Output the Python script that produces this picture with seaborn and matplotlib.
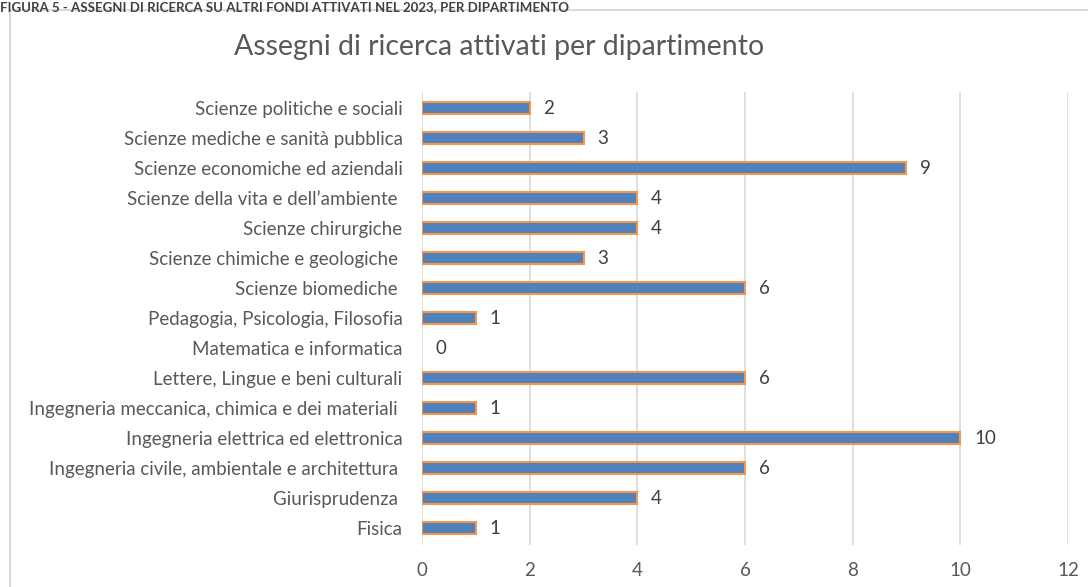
import pandas as pd
import matplotlib.pyplot as plt
import seaborn as sns
from matplotlib.patches import Rectangle

# Data (top to bottom)
dipartimenti = [
    "Scienze politiche e sociali",
    "Scienze mediche e sanità pubblica",
    "Scienze economiche ed aziendali",
    "Scienze della vita e dell\u2019ambiente ",
    "Scienze chirurgiche",
    "Scienze chimiche e geologiche ",
    "Scienze biomediche ",
    "Pedagogia, Psicologia, Filosofia",
    "Matematica e informatica",
    "Lettere, Lingue e beni culturali",
    "Ingegneria meccanica, chimica e dei materiali ",
    "Ingegneria elettrica ed elettronica",
    "Ingegneria civile, ambientale e architettura ",
    "Giurisprudenza ",
    "Fisica",
]
assegni = [2, 3, 9, 4, 4, 3, 6, 1, 0, 6, 1, 10, 6, 4, 1]
x_ticks = [0, 2, 4, 6, 8, 10, 12]

df = pd.DataFrame({"dipartimento": dipartimenti, "assegni": assegni})

sns.set_style("white")
plt.rcParams["font.family"] = ["Lato", "DejaVu Sans"]

fig = plt.figure(figsize=(10.88, 5.87), dpi=100)
ax = fig.add_axes([0.3879, 0.0716, 0.5937, 0.7717])

sns.barplot(
    data=df, x="assegni", y="dipartimento", orient="h",
    color="#4F81BD", saturation=1, edgecolor="#F79646",
    linewidth=1.5, width=0.4, ax=ax,
)

# no outline for empty bars
for p in ax.patches:
    if p.get_width() == 0:
        p.set_linewidth(0)

# value labels
for c in ax.containers:
    ax.bar_label(c, padding=10, fontsize=13.5, color="#404040")

ax.set_xlim(0, 12)
ax.set_ylim(len(dipartimenti) - 0.45, -0.55)
ax.set_xticks(x_ticks)
ax.set_xlabel("")
ax.set_ylabel("")
ax.grid(axis="x", color="#d9d9d9", linewidth=1.2)
ax.set_axisbelow(True)
for s in ax.spines.values():
    s.set_visible(False)
ax.tick_params(axis="y", length=0, pad=14, labelsize=13.5, labelcolor="#595959")
ax.tick_params(axis="x", length=0, pad=12, labelsize=13.5, labelcolor="#595959")

# chart title and figure caption
fig.text(0.459, 0.92, "Assegni di ricerca attivati per dipartimento",
         ha="center", va="center", fontsize=20.5, color="#595959")
fig.text(0.0, 0.999, "FIGURA 5 - ASSEGNI DI RICERCA SU ALTRI FONDI ATTIVATI NEL 2023, PER DIPARTIMENTO",
         ha="left", va="top", fontsize=9.5, fontweight="bold", color="#404040")

# chart frame
fig.patches.append(Rectangle((10 / 1088, -0.05), 1.1, 1 - 10 / 587 + 0.05,
                             transform=fig.transFigure, fill=False,
                             edgecolor="#d9d9d9", linewidth=1.5))

fig.savefig("out.png", dpi=100)
